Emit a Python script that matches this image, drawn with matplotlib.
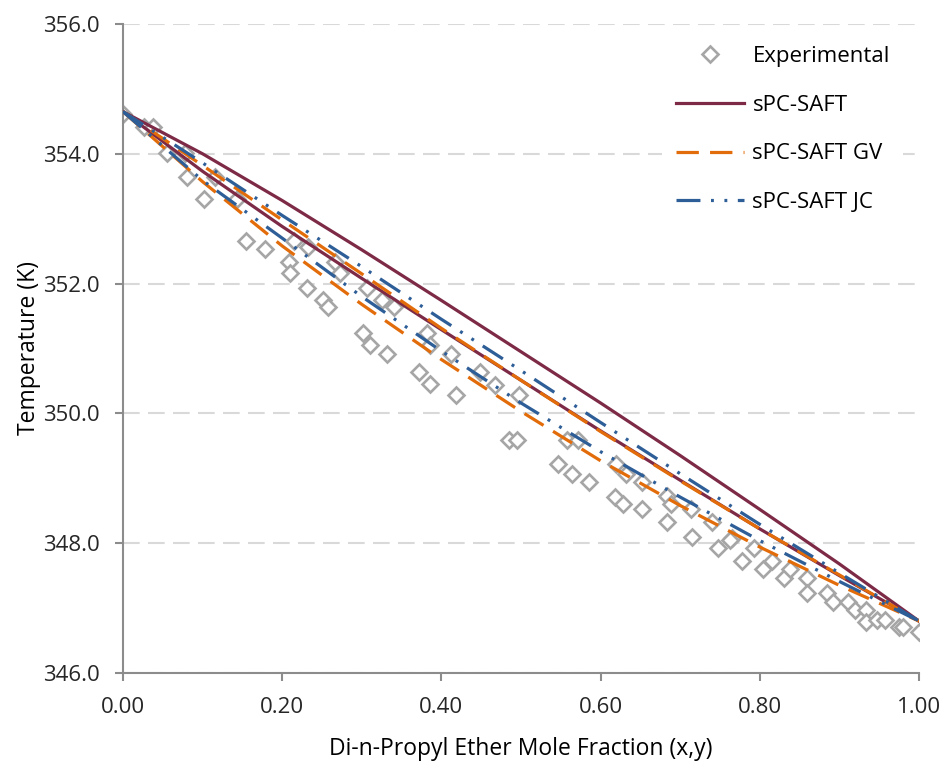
import matplotlib
matplotlib.use("Agg")
import matplotlib.pyplot as plt
import numpy as np

plt.rcParams['font.family'] = ['Open Sans', 'DejaVu Sans']

# Experimental data (x or y, T)
exp_x = [0.000, 0.026, 0.038, 0.055, 0.078, 0.081, 0.102, 0.116, 0.143, 0.155,
         0.179, 0.215, 0.208, 0.210, 0.232, 0.231, 0.266, 0.273, 0.251, 0.257,
         0.307, 0.325, 0.340, 0.302, 0.310, 0.332, 0.382, 0.386, 0.412, 0.372,
         0.386, 0.418, 0.448, 0.467, 0.497, 0.485, 0.495, 0.558, 0.571, 0.546,
         0.564, 0.585, 0.619, 0.632, 0.652, 0.618, 0.628, 0.652, 0.683, 0.689,
         0.684, 0.713, 0.740, 0.715, 0.748, 0.765, 0.763, 0.777, 0.793, 0.804,
         0.815, 0.830, 0.838, 0.859, 0.859, 0.884, 0.892, 0.911, 0.920, 0.934,
         0.934, 0.947, 0.957, 0.975, 0.980, 1.000]
exp_T = [354.61, 354.42, 354.42, 354.01, 354.01, 353.64, 353.31, 353.64, 353.31, 352.65,
         352.54, 352.65, 352.33, 352.16, 352.56, 351.93, 352.34, 352.16, 351.75, 351.64,
         351.93, 351.75, 351.64, 351.24, 351.05, 350.91, 351.24, 351.05, 350.91, 350.64,
         350.45, 350.28, 350.64, 350.44, 350.28, 349.59, 349.59, 349.59, 349.59, 349.22,
         349.06, 348.95, 349.22, 349.06, 348.95, 348.71, 348.60, 348.53, 348.72, 348.61,
         348.33, 348.52, 348.33, 348.09, 347.92, 348.08, 348.05, 347.73, 347.92, 347.60,
         347.73, 347.47, 347.60, 347.47, 347.24, 347.24, 347.10, 347.10, 346.97, 346.97,
         346.78, 346.82, 346.82, 346.71, 346.71, 346.63]

# Model curves
mx = [0.0, 0.1, 0.2, 0.3, 0.4, 0.5, 0.6, 0.7, 0.8, 0.9, 1.0]
saft_dew = [354.65, 354.00, 353.28, 352.52, 351.74, 350.95, 350.16, 349.35, 348.52, 347.68, 346.80]
saft_bub = [354.65, 353.73, 352.88, 352.08, 351.29, 350.51, 349.73, 348.97, 348.22, 347.50, 346.80]
gv_dew = [354.65, 353.82, 352.98, 352.15, 351.31, 350.51, 349.72, 348.96, 348.22, 347.51, 346.80]
gv_bub = [354.65, 353.57, 352.58, 351.68, 350.83, 350.03, 349.27, 348.58, 347.94, 347.35, 346.80]
jc_dew = [354.65, 353.86, 353.05, 352.26, 351.45, 350.66, 349.86, 349.07, 348.29, 347.54, 346.80]
jc_bub = [354.65, 353.59, 352.70, 351.80, 350.96, 350.16, 349.41, 348.71, 348.04, 347.41, 346.80]

fig = plt.figure(figsize=(9.46, 7.74), dpi=100)
ax = fig.add_axes([0.130, 0.1305, 0.8415, 0.8385])

c_saft = '#7D2A47'
c_gv = '#E36C0A'
c_jc = '#2E5E97'
lw = 2.3

ax.plot(exp_x, exp_T, linestyle='none', marker='D', markersize=8.5,
        markerfacecolor='white', markeredgecolor='#A6A6A6', markeredgewidth=1.9,
        label='Experimental', zorder=2)
ax.plot(mx, saft_dew, color=c_saft, lw=lw, label='sPC-SAFT', zorder=3)
ax.plot(mx, saft_bub, color=c_saft, lw=lw, zorder=3)
ax.plot(mx, gv_dew, color=c_gv, lw=lw, dashes=(7, 3.5), label='sPC-SAFT GV', zorder=3)
ax.plot(mx, gv_bub, color=c_gv, lw=lw, dashes=(7, 3.5), zorder=3)
jc_d = (7.5, 3.3, 0.9, 3.3, 0.9, 3.3)
ax.plot(mx, jc_dew, color=c_jc, lw=lw, dashes=jc_d, label='sPC-SAFT JC', zorder=3)
ax.plot(mx, jc_bub, color=c_jc, lw=lw, dashes=jc_d, zorder=3)

ax.set_xlim(0, 1)
ax.set_ylim(346, 356)
ax.set_xticks(np.arange(0, 1.01, 0.2))
ax.set_xticklabels(['%.2f' % v for v in np.arange(0, 1.01, 0.2)])
ax.set_yticks(np.arange(346, 356.1, 2))
ax.set_yticklabels(['%.1f' % v for v in np.arange(346, 356.1, 2)])

ax.yaxis.grid(True, color='#D9D9D9', lw=1.5, dashes=(8, 4))
ax.set_axisbelow(True)
for s in ['top', 'right']:
    ax.spines[s].set_visible(False)
for s in ['left', 'bottom']:
    ax.spines[s].set_color('#8C8C8C')
    ax.spines[s].set_linewidth(1.5)
ax.tick_params(axis='both', colors='#8C8C8C', width=1.5, length=6, direction='out',
               labelcolor='#262626', labelsize=16)
ax.tick_params(axis='y', pad=11)
ax.tick_params(axis='x', pad=11)

ax.set_xlabel('Di-n-Propyl Ether Mole Fraction (x,y)', fontsize=16.5, color='#000000', labelpad=14)
ax.set_ylabel('Temperature (K)', fontsize=16.5, color='#000000', labelpad=1.5)

leg = ax.legend(loc='upper right', bbox_to_anchor=(0.980, 0.987), frameon=True, fontsize=16,
                handlelength=3.1, labelspacing=1.25, borderpad=0.6, handletextpad=0.36,
                borderaxespad=0)
leg.get_frame().set_edgecolor('none')
leg.get_frame().set_facecolor('white')
leg.get_frame().set_alpha(1)

fig.savefig('out.png', dpi=100)
